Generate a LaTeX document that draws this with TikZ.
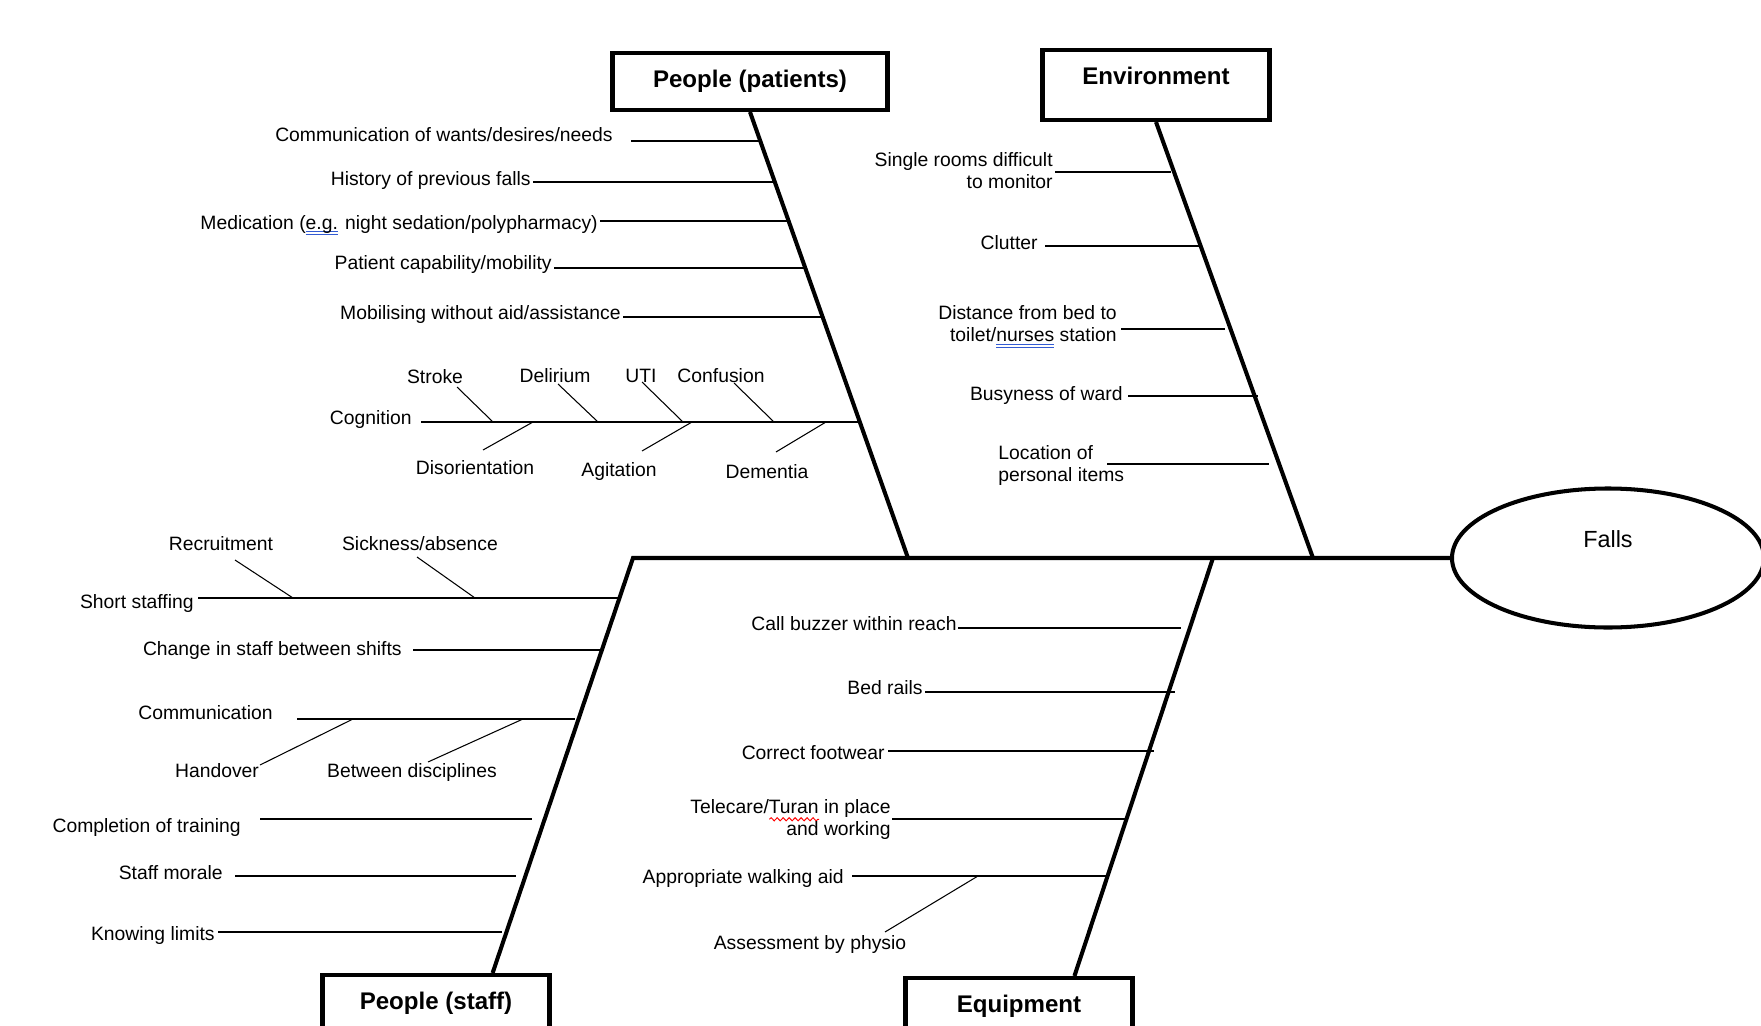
\documentclass[tikz,border=0pt]{standalone}
\usepackage{fontspec}
\setmainfont{Liberation Sans}
\usetikzlibrary{shapes.geometric,calc,decorations.pathmorphing}

% proofing marks of the original document
\definecolor{gramblue}{RGB}{50,90,210}
\newlength{\spellw}
\newcommand{\blueul}[1]{\settowidth{\spellw}{#1}\rlap{\color{gramblue}\rule[-1.8pt]{\spellw}{0.45pt}}\rlap{\color{gramblue}\rule[-3.2pt]{\spellw}{0.45pt}}#1}
\newcommand{\redwave}[1]{\settowidth{\spellw}{#1}\rlap{\raisebox{-4.5pt}{\tikz\draw[red,line width=0.55pt,decorate,decoration={snake,amplitude=0.9pt,segment length=3.4pt}] (0pt,0pt) -- (\spellw,0pt);}}#1}

\begin{document}
\begin{tikzpicture}[x=0.2mm,y=-0.2mm,
  spine/.style={line width=2.3pt},
  twig/.style={line width=0.8pt},
  bone/.style={line width=0.6pt},
  cause/.style={font=\fontsize{11}{12.6}\selectfont,inner sep=0pt,inner xsep=0.4mm,text height=8pt,text depth=0pt},
  cause2/.style={font=\fontsize{11}{12.6}\selectfont,inner sep=0pt,inner xsep=0.4mm},
  category/.style={draw,line width=2.3pt,anchor=north,inner sep=0pt,minimum width=45.4mm,
    font=\fontsize{13.7}{16}\selectfont\bfseries,text height=19.7pt,text depth=20.1pt},
  effect/.style={draw,ellipse,line width=2.3pt,inner sep=0pt,minimum width=62.4mm,minimum height=27.8mm,
    font=\fontsize{13.3}{16}\selectfont,text height=9.5pt,text depth=21.5pt}]
\useasboundingbox (0,0) rectangle (1761,1026);
\clip (0,0) rectangle (1761,1026);

% heads and effect
\node[category,minimum width=55mm,text depth=12.7pt] (ppbox) at (750,51) {People (patients)};
\node[category] (envbox) at (1156,48) {Environment};
\node[category] (psbox) at (436,973) {People (staff)};
\node[category] (eqbox) at (1019,976) {Equipment};
\node[effect] (falls) at (1608,558) {Falls};

% spines
\coordinate (ppB) at (908,558);
\coordinate (envB) at (1313,558);
\coordinate (psT) at (633,558);
\coordinate (eqT) at (1213,558);
\draw[spine] (ppbox.south) -- (ppB);
\draw[spine] (envbox.south) -- (envB);
\draw[spine] ($(psbox.north)!0.49!(psbox.north east)$) -- (psT) -- (falls.west);
\draw[spine] (eqT) -- ($(eqbox.north)!0.48!(eqbox.north east)$);

% People (patients)
\node[cause,anchor=east,inner xsep=3.6mm] (commw) at (631,134) {Communication of wants/desires/needs};
\node[cause,anchor=east] (hist) at (533,178) {History of previous falls};
\node[cause,anchor=east] (medic) at (600,222) {Medication (\blueul{e.g.} night sedation/polypharmacy)};
\node[cause,anchor=east] (patcap) at (554,262) {Patient capability/mobility};
\node[cause,anchor=east] (mobil) at (623,312) {Mobilising without aid/assistance};
\node[cause,anchor=east,inner xsep=1.8mm] (cogn) at (421,417) {Cognition};
\coordinate (pp1) at (760,141);
\coordinate (pp2) at (775,182);
\coordinate (pp3) at (789,221);
\coordinate (pp4) at (805,268);
\coordinate (pp5) at (821,317);
\coordinate (pp6) at (860,422);
\draw[twig] (commw.east |- pp1) -- (pp1);
\draw[twig] (hist.east |- pp2) -- (pp2);
\draw[twig] (medic.east |- pp3) -- (pp3);
\draw[twig] (patcap.east |- pp4) -- (pp4);
\draw[twig] (mobil.east |- pp5) -- (pp5);
\draw[twig] (cogn.east |- pp6) -- (pp6);

% Cognition
\node[cause] (stroke) at (435,376) {Stroke};
\node[cause] (delir) at (555,375) {Delirium};
\node[cause] (uti) at (641,375) {UTI};
\node[cause] (conf) at (721,375) {Confusion};
\node[cause] (disor) at (475,467) {Disorientation};
\node[cause] (agit) at (619,469) {Agitation};
\node[cause] (dement) at (767,471) {Dementia};
\coordinate (stroke1) at (457,387); \coordinate (stroke2) at (493,422);
\coordinate (delir1) at (558,384); \coordinate (delir2) at (598,422);
\coordinate (uti1) at (642,382); \coordinate (uti2) at (683,422);
\coordinate (conf1) at (734,383); \coordinate (conf2) at (774,422);
\coordinate (disor1) at (483,450); \coordinate (disor2) at (533,422);
\coordinate (agit1) at (642,451); \coordinate (agit2) at (692,422);
\coordinate (dement1) at (776,452); \coordinate (dement2) at (826,422);
\draw[bone] (stroke1) -- (stroke2);
\draw[bone] (delir1) -- (delir2);
\draw[bone] (uti1) -- (uti2);
\draw[bone] (conf1) -- (conf2);
\draw[bone] (disor1) -- (disor2);
\draw[bone] (agit1) -- (agit2);
\draw[bone] (dement1) -- (dement2);

% Environment
\node[cause2,align=right,anchor=east] (single) at (1055,171) {Single rooms difficult\\to monitor};
\node[cause,anchor=east,inner xsep=1.4mm] (clutter) at (1045,242) {Clutter};
\node[cause2,align=right,anchor=east,inner xsep=0.8mm] (dist) at (1121,326.5) {Distance from bed to\\toilet/\blueul{nurses} station};
\node[cause,anchor=east,inner xsep=1mm] (busy) at (1128,393) {Busyness of ward};
\node[cause2,align=left,anchor=west,inner xsep=0pt] (locat) at (998,465.5) {Location of\\personal items};
\coordinate (env1) at (1171,172);
\coordinate (env2) at (1199,246);
\coordinate (env3) at (1225,329);
\coordinate (env4) at (1258,396);
\coordinate (env5) at (1269,464);
\coordinate (env5s) at (1107,464);
\draw[twig] (single.east |- env1) -- (env1);
\draw[twig] (clutter.east |- env2) -- (env2);
\draw[twig] (dist.east |- env3) -- (env3);
\draw[twig] (busy.east |- env4) -- (env4);
\draw[twig] (env5s) -- (env5);

% People (staff)
\node[cause,anchor=east,inner xsep=0.8mm] (shorts) at (198,601) {Short staffing};
\node[cause,anchor=east,inner xsep=2.2mm] (change) at (413,648) {Change in staff between shifts};
\node[cause,anchor=east,inner xsep=4.8mm] (commun) at (297,712) {Communication};
\node[cause,anchor=east,inner xsep=3.8mm] (compl) at (260,825) {Completion of training};
\node[cause,anchor=east,inner xsep=2.4mm] (morale) at (235,872) {Staff morale};
\node[cause,anchor=east,inner xsep=0.6mm] (knowing) at (218,933) {Knowing limits};
\coordinate (ps1) at (618,598);
\coordinate (ps2) at (601,650);
\coordinate (ps3) at (575,719);
\coordinate (ps4) at (532,819);
\coordinate (ps5) at (516,876);
\coordinate (ps6) at (502,932);
\draw[twig] (shorts.east |- ps1) -- (ps1);
\draw[twig] (change.east |- ps2) -- (ps2);
\draw[twig] (commun.east |- ps3) -- (ps3);
\draw[twig] (compl.east |- ps4) -- (ps4);
\draw[twig] (morale.east |- ps5) -- (ps5);
\draw[twig] (knowing.east |- ps6) -- (ps6);

\node[cause] (recruit) at (221,543) {Recruitment};
\node[cause] (sick) at (420,543) {Sickness/absence};
\node[cause] (handover) at (217,770) {Handover};
\node[cause] (betw) at (412,770) {Between disciplines};
\coordinate (recruit1) at (235,560); \coordinate (recruit2) at (293,598);
\coordinate (sick1) at (417,557); \coordinate (sick2) at (475,598);
\coordinate (handover1) at (260,765); \coordinate (handover2) at (353,719);
\coordinate (betw1) at (428,762); \coordinate (betw2) at (523,719);
\draw[bone] (recruit1) -- (recruit2);
\draw[bone] (sick1) -- (sick2);
\draw[bone] (handover1) -- (handover2);
\draw[bone] (betw1) -- (betw2);

% Equipment
\node[cause,anchor=east,inner xsep=0.2mm] (buzzer) at (958,623) {Call buzzer within reach};
\node[cause,anchor=east] (bedrails) at (925,687) {Bed rails};
\node[cause,anchor=east,inner xsep=0.6mm] (footwear) at (888,752) {Correct footwear};
\node[cause2,align=right,anchor=east,inner xsep=0.2mm] (telecare) at (892,819.5) {Telecare/\redwave{Turan} in place\\and working};
\node[cause,anchor=east,inner xsep=1.6mm] (walkaid) at (852,876) {Appropriate walking aid};
\node[cause] (physio) at (810,942) {Assessment by physio};
\coordinate (eq1) at (1181,628);
\coordinate (eq2) at (1175,692);
\coordinate (eq3) at (1154,751);
\coordinate (eq4) at (1125,819);
\coordinate (eq5) at (1106,876);
\draw[twig] (buzzer.east |- eq1) -- (eq1);
\draw[twig] (bedrails.east |- eq2) -- (eq2);
\draw[twig] (footwear.east |- eq3) -- (eq3);
\draw[twig] (telecare.east |- eq4) -- (eq4);
\draw[twig] (walkaid.east |- eq5) -- (eq5);
\coordinate (physio1) at (885,932); \coordinate (physio2) at (978,876);
\draw[bone] (physio1) -- (physio2);
\end{tikzpicture}
\end{document}
